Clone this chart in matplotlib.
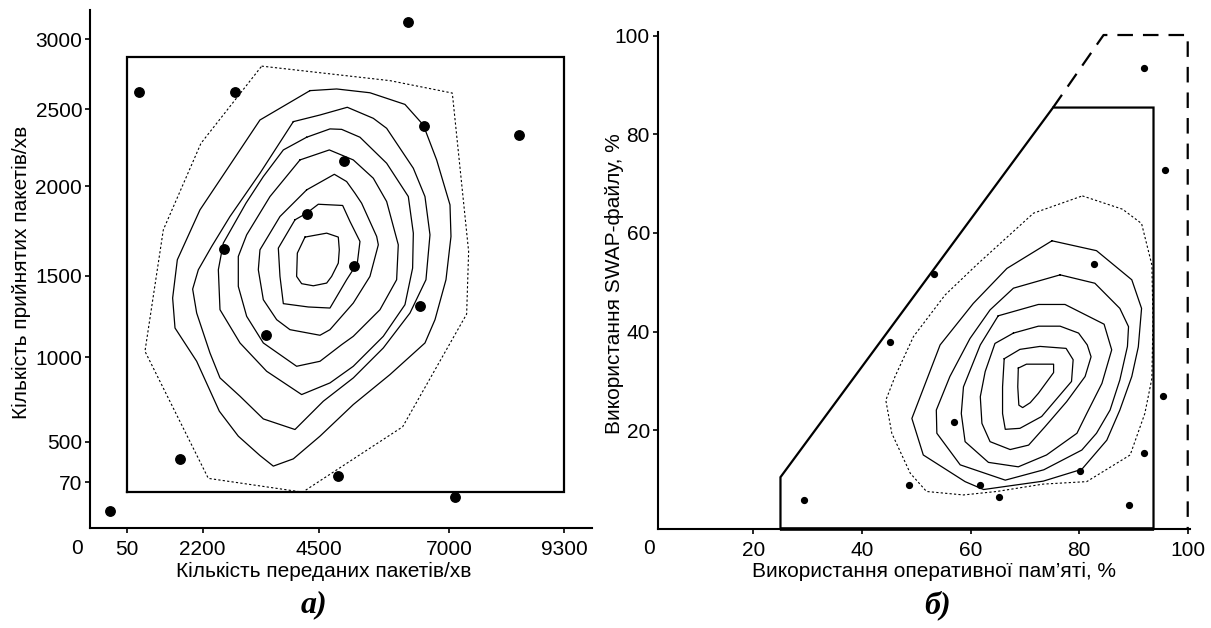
import matplotlib
matplotlib.use('Agg')
import matplotlib.pyplot as plt
import matplotlib.transforms as mtransforms

W, H = 1211, 628
SANS = ['Liberation Sans', 'DejaVu Sans']
SERIF = ['Liberation Serif', 'DejaVu Serif']

# ---------------- panel а) : packets ----------------
a_xticks = [50, 1656, 4121, 6863, 9300]
a_xticklabels = ['50', '2200', '4500', '7000', '9300']
a_yticks = [70, 338, 896, 1436, 2028, 2537, 3000]
a_yticklabels = ['70', '500', '1000', '1500', '2000', '2500', '3000']
a_box_x = [50, 9300, 9300, 50, 50]
a_box_y = [4, 4, 2879, 2879, 4]

a_pts_x = [310, 2339, 6327, 4650, 3861, 2099, 4861, 6242, 3001, 1176, 4523, 6982, 6000, 8349, -303]
a_pts_y = [2652, 2652, 2428, 2194, 1842, 1611, 1497, 1237, 1042, 225, 115, -28, 3112, 2366, -118]

a_outer_x = [2903, 5615, 6933, 7278, 7236, 5883, 3769, 1775, 436, 824, 1620]
a_outer_y = [2821, 2725, 2643, 1596, 1182, 437, 5, 96, 936, 1739, 2311]

a_lvl1_x = [3924, 4488, 5192, 5932, 6320, 6602, 6884, 6905, 6799, 6567, 6355, 5615, 4840, 4136,
            3572, 3149, 2867, 2409, 2008, 1529, 1071, 1021, 1120, 1599, 2163, 2867]
a_lvl1_y = [2659, 2670, 2645, 2568, 2432, 2201, 1904, 1695, 1409, 1145, 991, 782, 584, 375,
            225, 177, 247, 375, 540, 870, 1090, 1288, 1541, 1871, 2135, 2465]
a_lvl2_x = [3572, 4136, 4713, 5263, 5545, 6109, 6355, 6461, 6376, 6038, 5474, 4840, 4206, 3607,
            2938, 2445, 2022, 1810, 1529, 1444, 1564, 1846, 2233, 2867]
a_lvl2_y = [2454, 2498, 2549, 2476, 2410, 2146, 1959, 1706, 1409, 1189, 958, 760, 606, 419,
            489, 639, 760, 925, 1189, 1347, 1475, 1629, 1827, 2113]
a_lvl3_x = [3854, 4347, 4594, 4981, 5545, 6003, 6109, 6094, 5932, 5474, 4840, 4347, 3748, 3008,
            2445, 2022, 1987, 2092, 2571, 2938, 3361]
a_lvl3_y = [2351, 2406, 2403, 2351, 2179, 1959, 1717, 1486, 1244, 1035, 837, 727, 650, 804,
            991, 1211, 1475, 1651, 1915, 2091, 2267]
a_lvl4_x = [3713, 4333, 4840, 5263, 5545, 5791, 5756, 5404, 4840, 4594, 4136, 3642, 2938, 2586,
            2409, 2409, 2586, 3079]
a_lvl4_y = [2201, 2267, 2201, 2080, 1926, 1640, 1409, 1211, 1035, 980, 870, 837, 991, 1167,
            1365, 1563, 1706, 1959]
a_lvl5_x = [3854, 4439, 4699, 4875, 5016, 5334, 5369, 5192, 4840, 4347, 4136, 3501, 3220, 2938,
            2832, 2867, 3290]
a_lvl5_y = [2003, 2106, 2058, 1981, 1915, 1695, 1640, 1431, 1255, 1079, 1042, 1079, 1145, 1277,
            1475, 1607, 1827]
a_lvl6_x = [3607, 3854, 4100, 4615, 4770, 4981, 4925, 4699, 4347, 3889, 3361, 3290, 3255]
a_lvl6_y = [1805, 1849, 1908, 1900, 1794, 1662, 1519, 1409, 1222, 1229, 1251, 1431, 1618]
a_lvl7_x = [3819, 4277, 4523, 4544, 4523, 4382, 4277, 3995, 3748, 3642, 3657]
a_lvl7_y = [1691, 1717, 1691, 1607, 1519, 1431, 1387, 1369, 1383, 1431, 1585]

# ---------------- panel б) : memory ----------------
b_ticks = [20, 40, 60, 80, 100]
b_pts_x = [92.0, 95.8, 82.7, 53.3, 45.1, 95.5, 56.9, 91.9, 80.1, 48.7, 61.7, 65.3, 29.4, 89.1]
b_pts_y = [93.5, 72.7, 53.6, 51.6, 37.8, 26.9, 21.7, 15.4, 11.8, 9.0, 9.0, 6.5, 5.9, 4.8]

b_solid_x = [25.0, 25.0, 75.2, 93.7, 93.7]
b_solid_y = [0.0, 10.5, 85.4, 85.4, 0.0]
b_base_x = [25.0, 93.7]
b_base_y = [0.0, 0.0]
b_dash_x = [75.2, 84.5, 100.0, 100.0]
b_dash_y = [85.4, 100.1, 100.1, 0.0]

b_outer_x = [80.6, 88.0, 91.5, 93.4, 93.6, 93.4, 92.1, 89.4, 81.4, 73.4, 64.8, 58.7, 51.9, 48.9,
             45.5, 44.4, 46.1, 49.5, 55.3, 61.1, 71.6]
b_outer_y = [67.5, 64.8, 61.9, 53.5, 42.4, 30.5, 23.4, 15.0, 9.6, 9.1, 7.6, 6.9, 7.6, 11.3,
             19.4, 26.1, 30.9, 39.0, 47.4, 53.5, 64.0]
b_lvl1_x = [75.0, 83.2, 89.7, 91.5, 90.9, 89.7, 87.5, 85.1, 80.5, 73.4, 62.4, 59.0, 51.3, 49.2,
            54.4, 60.5, 66.7]
b_lvl1_y = [58.4, 56.4, 50.5, 44.7, 36.9, 30.9, 24.1, 18.0, 12.1, 9.7, 8.0, 9.6, 15.0, 22.4,
            37.3, 45.7, 52.8]
b_lvl2_x = [76.5, 82.9, 87.5, 89.1, 88.9, 87.5, 85.7, 83.2, 80.5, 73.5, 66.4, 58.1, 53.8, 53.7,
            56.2, 59.9, 63.6, 67.9]
b_lvl2_y = [51.5, 49.8, 44.7, 41.0, 37.0, 30.2, 24.1, 19.4, 16.0, 12.0, 9.9, 13.0, 19.4, 24.1,
            30.9, 38.6, 44.4, 48.8]
b_lvl3_x = [65.1, 72.5, 77.4, 84.6, 86.0, 84.2, 81.4, 79.6, 74.0, 68.8, 63.3, 59.0, 58.3, 58.7, 61.8]
b_lvl3_y = [43.2, 45.5, 45.5, 41.5, 36.3, 29.5, 23.4, 19.4, 15.0, 12.6, 13.5, 17.7, 23.4, 28.8, 37.3]
b_lvl4_x = [67.9, 72.5, 76.5, 79.9, 81.5, 82.2, 81.1, 77.7, 73.7, 70.7, 67.3, 63.6, 62.1, 61.8,
            62.7, 64.5]
b_lvl4_y = [39.7, 41.1, 41.1, 39.7, 37.3, 34.9, 30.9, 25.8, 20.7, 17.0, 16.1, 17.7, 21.4, 26.8,
            31.9, 37.6]
b_lvl5_x = [66.2, 69.1, 72.8, 77.6, 78.9, 78.6, 73.1, 69.1, 66.4, 65.9, 65.9]
b_lvl5_y = [34.5, 36.4, 37.0, 36.6, 34.3, 29.9, 22.8, 20.4, 20.2, 23.4, 28.8]
b_lvl6_x = [68.8, 70.3, 75.3, 75.3, 72.5, 71.0, 69.6, 68.9, 68.7]
b_lvl6_y = [32.6, 33.4, 33.4, 31.7, 27.5, 25.6, 24.6, 25.1, 28.8]


def closed(xs, ys):
    return list(xs) + [xs[0]], list(ys) + [ys[0]]


def px_axes(l, t, r, b):
    return [l / W, 1 - b / H, (r - l) / W, (b - t) / H]


def style_axes(ax):
    for s in ('top', 'right'):
        ax.spines[s].set_visible(False)
    for s in ('left', 'bottom'):
        ax.spines[s].set_linewidth(1.5)
    ax.tick_params(direction='out', length=3.6, width=1.2, labelsize=15, colors='black')
    ax.tick_params(axis='x', pad=5)
    ax.tick_params(axis='y', pad=2)
    for lab in ax.get_xticklabels() + ax.get_yticklabels():
        lab.set_family(SANS)


fig = plt.figure(figsize=(W / 100, H / 100), dpi=100)

THIN = 0.9
DOT = (0, (2, 2))

# ---- panel а)
ax1 = fig.add_axes(px_axes(90, 10, 592, 528.3))
ax1.set_xlim(-726, 9886)
ax1.set_ylim(-234, 3192)
ax1.set_xticks(a_xticks)
ax1.set_xticklabels(a_xticklabels)
ax1.set_yticks(a_yticks)
ax1.set_yticklabels(a_yticklabels)
style_axes(ax1)

ax1.plot(a_box_x, a_box_y, color='black', lw=1.6, solid_joinstyle='miter')
ax1.plot(*closed(a_outer_x, a_outer_y), color='black', lw=0.8, linestyle=DOT)
for xs, ys in [(a_lvl1_x, a_lvl1_y), (a_lvl2_x, a_lvl2_y), (a_lvl3_x, a_lvl3_y),
               (a_lvl4_x, a_lvl4_y), (a_lvl5_x, a_lvl5_y), (a_lvl6_x, a_lvl6_y),
               (a_lvl7_x, a_lvl7_y)]:
    ax1.plot(*closed(xs, ys), color='black', lw=THIN)
ax1.plot(a_pts_x, a_pts_y, 'o', color='black', ms=6.8, clip_on=False)

# origin "0" label
tr1 = mtransforms.blended_transform_factory(ax1.transAxes, ax1.transAxes)
ax1.text(-13.3 / 502, -20.2 / 518.3, '0', transform=tr1, ha='center', va='center',
         fontsize=15, family=SANS)

# ---- panel б)
ax2 = fig.add_axes(px_axes(657.7, 32.3, 1190, 529))
ax2.set_xlim(2.39, 100.42)
ax2.set_ylim(0, 100.65)
ax2.set_xticks(b_ticks)
ax2.set_yticks(b_ticks)
ax2.set_xticklabels([str(t) for t in b_ticks])
ax2.set_yticklabels([str(t) for t in b_ticks])
style_axes(ax2)

ax2.plot(b_solid_x, b_solid_y, color='black', lw=1.6, solid_joinstyle='miter', clip_on=False)
ax2.plot(b_base_x, b_base_y, color='black', lw=2.6, clip_on=False, solid_capstyle='butt')
ax2.plot(b_dash_x, b_dash_y, color='black', lw=1.6, linestyle=(0, (7, 4.5)), clip_on=False)
ax2.plot(*closed(b_outer_x, b_outer_y), color='black', lw=0.8, linestyle=DOT)
for xs, ys in [(b_lvl1_x, b_lvl1_y), (b_lvl2_x, b_lvl2_y), (b_lvl3_x, b_lvl3_y),
               (b_lvl4_x, b_lvl4_y), (b_lvl5_x, b_lvl5_y), (b_lvl6_x, b_lvl6_y)]:
    ax2.plot(*closed(xs, ys), color='black', lw=THIN)
ax2.plot(b_pts_x, b_pts_y, 'o', color='black', ms=4.2, clip_on=False)

tr2 = mtransforms.blended_transform_factory(ax2.transData, ax2.transAxes)
ax2.text(0.7, -19.5 / 496.7, '0', transform=tr2, ha='center', va='center',
         fontsize=15, family=SANS, clip_on=False)

# ---- axis titles and captions (figure pixel positions)
def ftext(x, y, s, **kw):
    fig.text(x / W, 1 - y / H, s, ha='center', va='center', **kw)

ftext(324, 571, 'Кількість переданих пакетів/хв', fontsize=15, family=SANS)
ftext(21, 272, 'Кількість прийнятих пакетів/хв', fontsize=15, family=SANS, rotation=90)
ftext(934, 571, 'Використання оперативної пам’яті, %', fontsize=15, family=SANS)
ftext(614, 284, 'Використання SWAP-файлу, %', fontsize=15, family=SANS, rotation=90)
ftext(314, 605, 'а)', fontsize=23, family=SERIF, weight='bold', style='italic')
ftext(938, 605, 'б)', fontsize=23, family=SERIF, weight='bold', style='italic')

fig.savefig('out.png', dpi=100)
